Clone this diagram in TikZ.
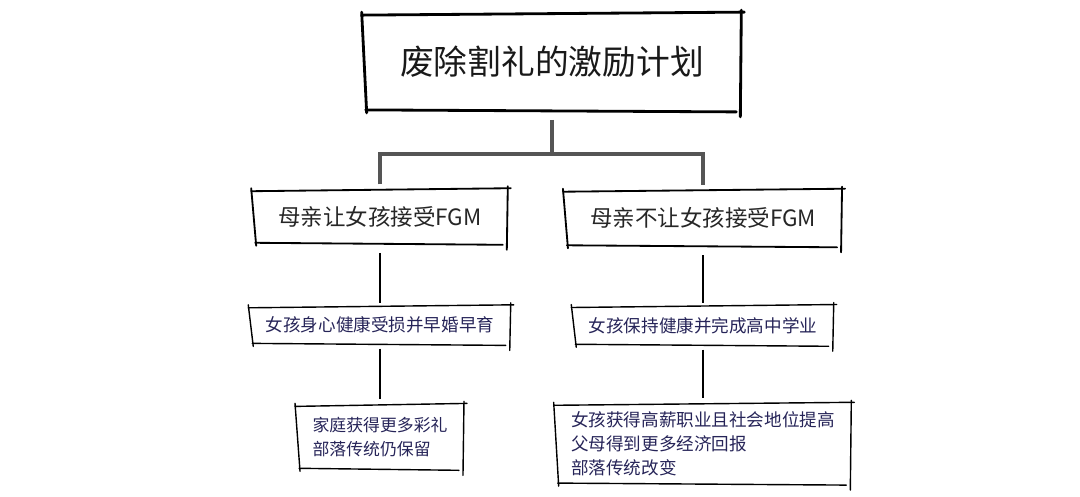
\documentclass[tikz,border=0pt]{standalone}
\usepackage{fontspec}
\setmainfont{Noto Sans CJK SC}
\usepackage{xcolor}
\usepackage{tikz}
\usetikzlibrary{positioning, calc}
\definecolor{inkblue}{RGB}{38,36,88}
\definecolor{trunkgray}{RGB}{85,85,85}
% sketchy border round a named node
\newcommand{\sketchbox}[2][]{%
  \draw[border, #1] ([shift={(-2,2)}]#2.north west) -- ([shift={(4,-1)}]#2.north east);
  \draw[border, #1] ([shift={(1,-3)}]#2.north east) -- ([shift={(0,6)}]#2.south east);
  \draw[border, #1] ([shift={(-4,1)}]#2.south east) -- ([shift={(2,-1)}]#2.south west);
  \draw[border, #1] ([shift={(3,2)}]#2.south west) -- ([shift={(-2,-1)}]#2.north west);
}
\begin{document}
\begin{tikzpicture}[
                x=0.025cm, y=-0.025cm,
                border/.style={draw=black, line width=1.3pt, line cap=round},
                titlebox/.style={rectangle, align=center, minimum width=9.4cm, minimum height=2.43cm, text=black!90, font=\fontsize{24}{28}\selectfont},
                choice/.style={rectangle, align=center, minimum height=1.35cm, inner xsep=0.62cm, text=black!85, font=\fontsize{16}{19}\selectfont},
                outcome/.style={rectangle, align=center, minimum height=0.95cm, inner xsep=0.38cm, text=inkblue, font=\fontsize{12.5}{16}\selectfont},
                result/.style={rectangle, align=left, inner xsep=0.38cm, inner ysep=0.3cm, text=inkblue, font=\fontsize{12.5}{17}\selectfont},
                trunk/.style={draw=trunkgray, line width=2.8pt},
                link/.style={draw=black, line width=2pt, shorten <=6.4pt, shorten >=2pt}
            ]%
            \useasboundingbox (0,0) rectangle (1080,496);
            %
            % Nodo principal
            \node[titlebox] (plan) at (552,62) {废除割礼的激励计划};
            %
            % Dos decisiones
            \node[choice, minimum width=6.2cm] (accept) at (380,216.5) {母亲让女孩接受FGM};
            \node[choice, minimum width=6.85cm, minimum height=1.4cm] (refuse) at (703,218) {母亲不让女孩接受FGM};
            %
            % Consecuencias
            \node[outcome, below=1.55cm of accept] (harm) {女孩身心健康受损并早婚早育};
            \node[outcome, below=1.48cm of refuse, minimum height=0.98cm] (health) {女孩保持健康并完成高中学业};
            \node[result, below=1.5cm of harm, font=\fontsize{12}{17.5}\selectfont] (dowry) {家庭获得更多彩礼\\部落传统仍保留};
            \node[result, below=1.45cm of health, inner ysep=0.2cm] (career) {女孩获得高薪职业且社会地位提高\\父母得到更多经济回报\\部落传统改变};
            %
            % Bordes a mano
            \sketchbox[line width=2pt]{plan}
            \sketchbox{accept}
            \sketchbox{refuse}
            \sketchbox[line width=1pt]{harm}
            \sketchbox[line width=1pt]{health}
            \sketchbox[line width=1pt]{dowry}
            \sketchbox[line width=1pt]{career}
            %
            % Conexiones
            \coordinate (fork) at ([shift={(0,43)}]plan.south);
            \draw[trunk] ([shift={(0,9)}]plan.south) -- (fork);
            \draw[trunk] ([yshift=3.5pt]accept.north) |- (fork) -| ([yshift=3.5pt]refuse.north);
            \draw[link] (accept) -- (harm);
            \draw[link] (refuse) -- (health);
            \draw[link, shorten <=3pt, shorten >=4pt] (harm) -- (dowry);
            \draw[link, shorten <=3pt, shorten >=4pt] (health) -- (career);
        \end{tikzpicture}
\end{document}
